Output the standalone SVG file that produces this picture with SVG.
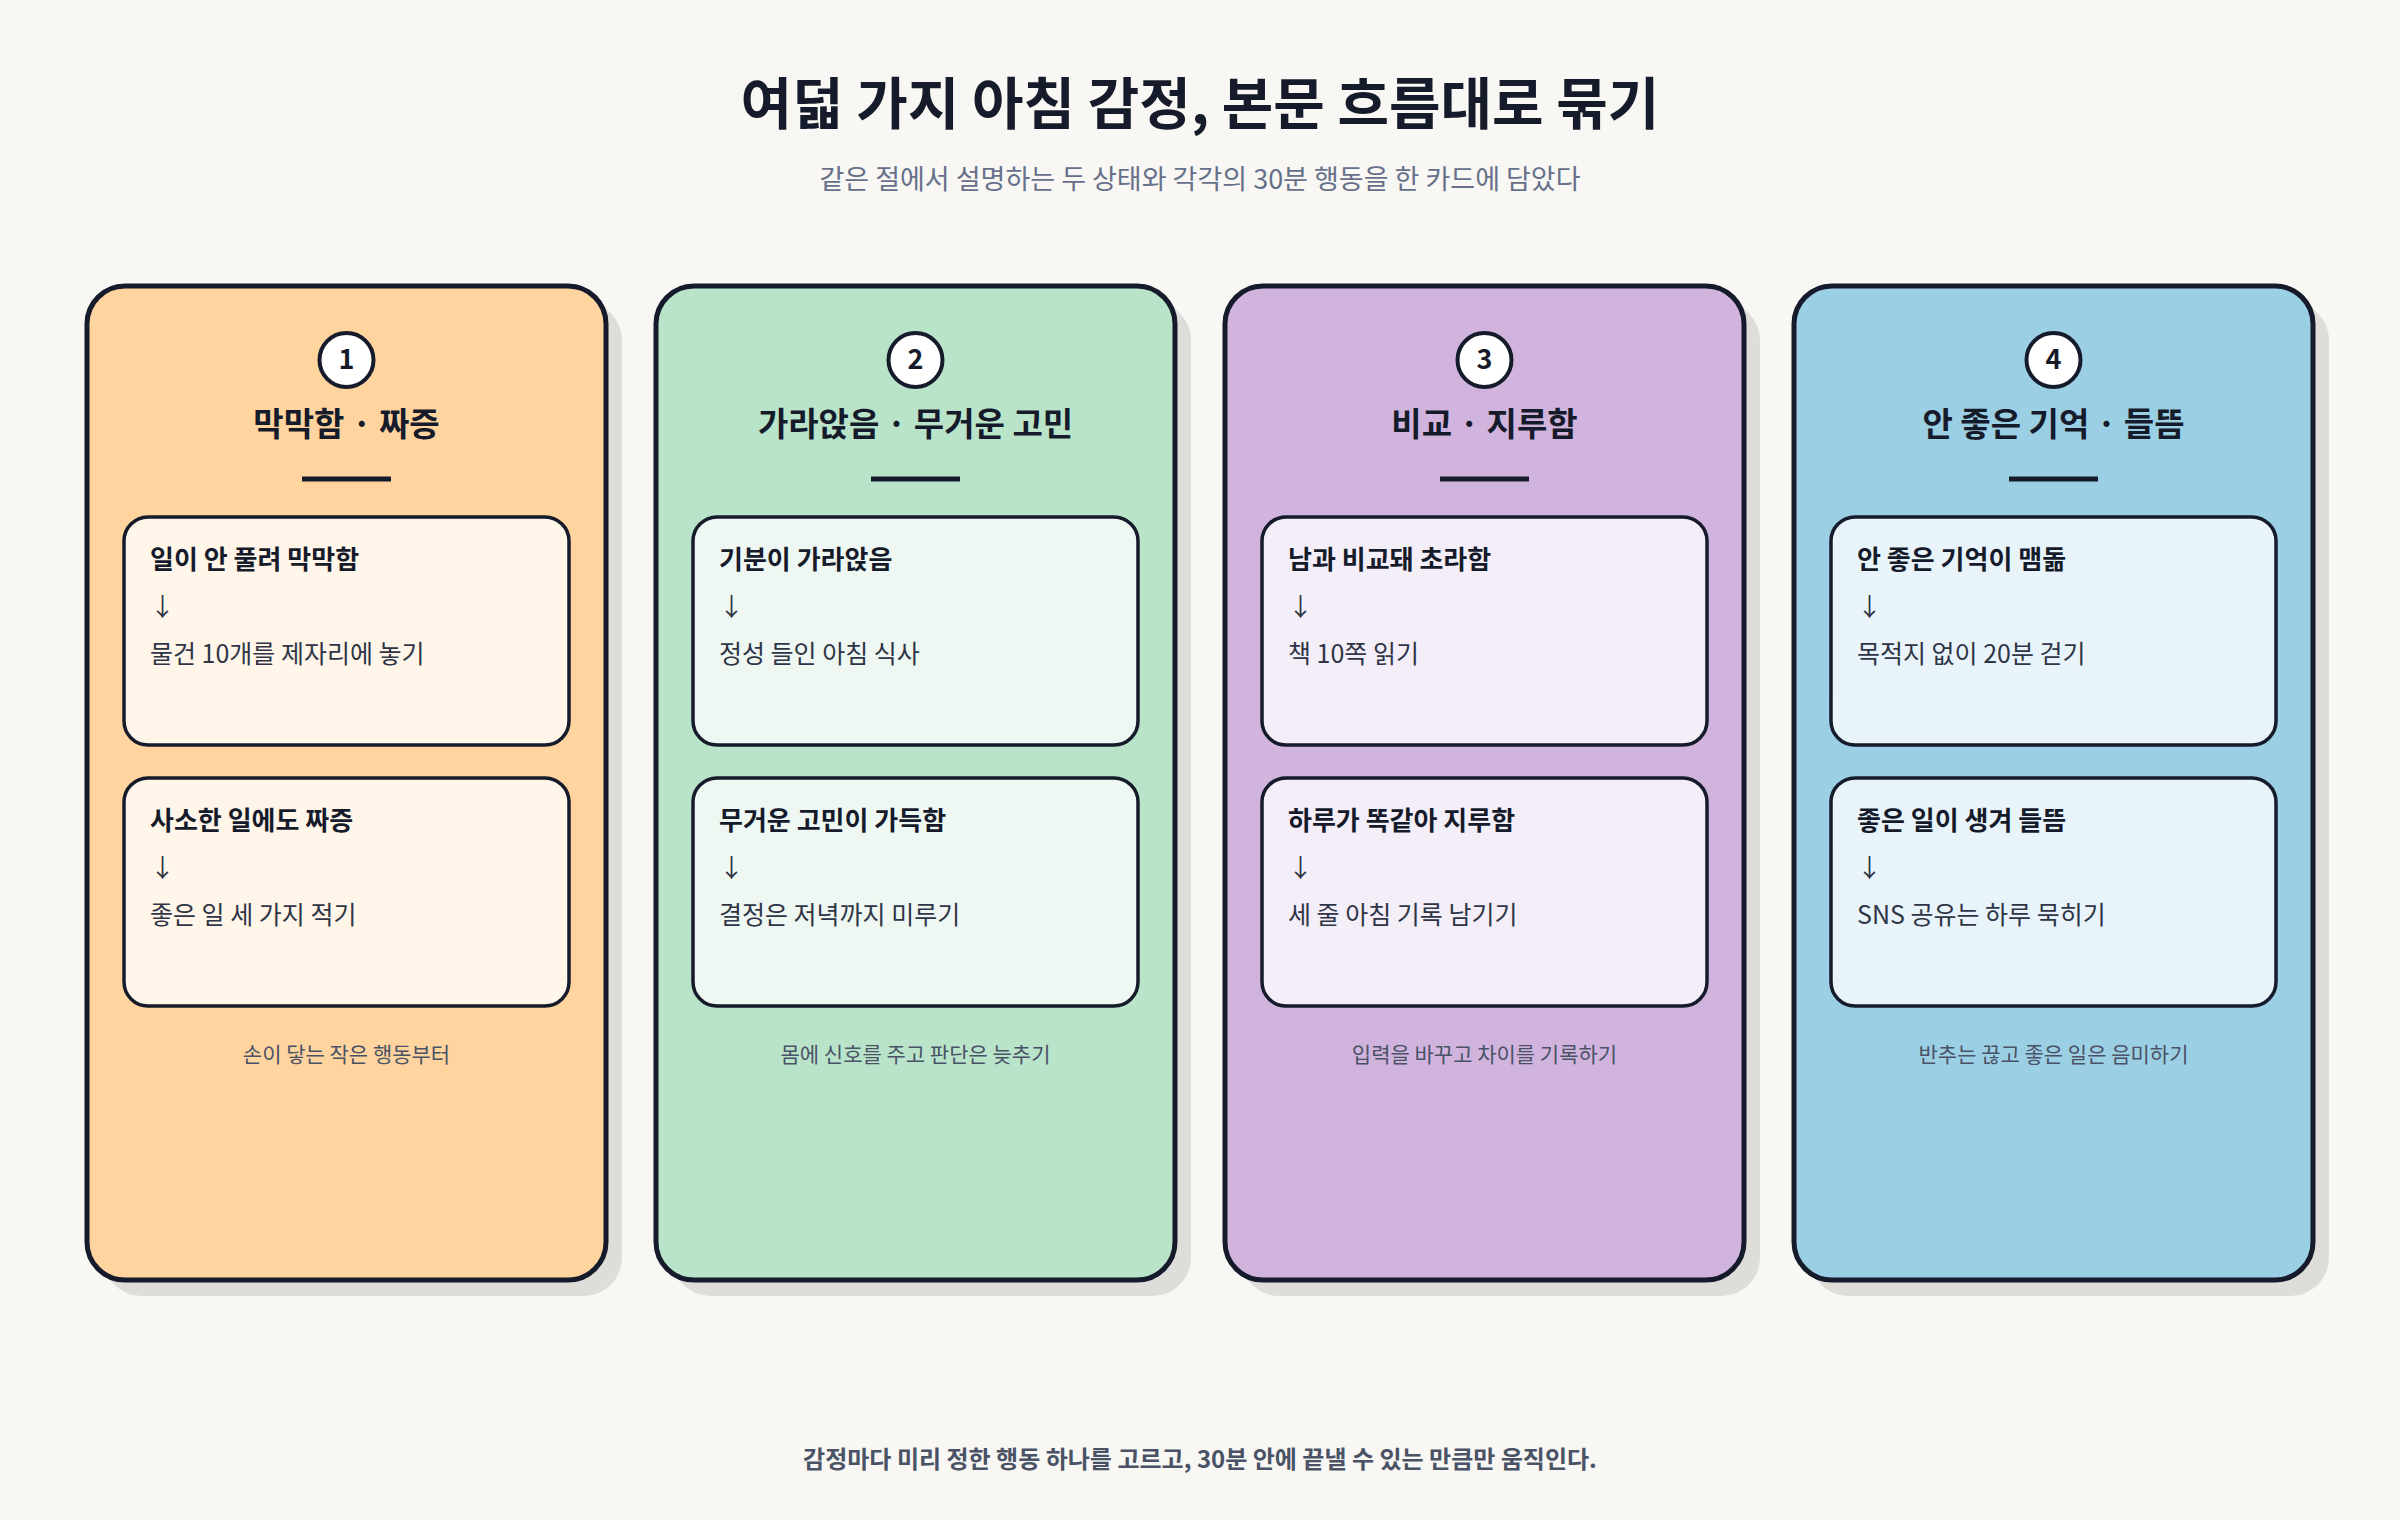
<svg xmlns="http://www.w3.org/2000/svg" width="2400" height="1520" viewBox="0 0 2400 1520">
<style>
text{font-family:"Noto Sans CJK KR","Noto Sans",sans-serif}
.card{stroke:#161b2b;stroke-width:5}
.shadow{fill:#000;opacity:0.1}
.box{stroke:#161b2b;stroke-width:3.5}
.num{font-size:27px;font-weight:700;fill:#161b2b;text-anchor:middle}
.ttl{font-size:33px;font-weight:700;fill:#161b2b;text-anchor:middle}
.h{font-size:26px;font-weight:700;fill:#161b2b}
.a{font-size:25px;fill:#2f3546}
.note{font-size:21px;fill:#4a5266;text-anchor:middle}
</style>
<rect width="2400" height="1520" fill="#f8f7f3"/>
<text x="1200" y="124" font-size="56" font-weight="700" fill="#161b2b" text-anchor="middle">여덟 가지 아침 감정, 본문 흐름대로 묶기</text>
<text x="1200" y="189" font-size="27" fill="#66708a" text-anchor="middle">같은 절에서 설명하는 두 상태와 각각의 30분 행동을 한 카드에 담았다</text>
<g id="card1" transform="translate(87,286)">
<rect class="shadow" x="16" y="16" width="519" height="994" rx="38"/>
<rect class="card" fill="#ffd49f" width="519" height="994" rx="38"/>
<circle cx="259.5" cy="74" r="27" fill="#fff" stroke="#161b2b" stroke-width="4"/><text class="num" x="259.5" y="83">1</text>
<text class="ttl" x="259.5" y="150">막막함 · 짜증</text>
<line x1="215" y1="193" x2="304" y2="193" stroke="#161b2b" stroke-width="5"/>
<rect class="box" fill="#fff5e9" x="37" y="231" width="445" height="228" rx="24"/>
<text class="h" x="63" y="283">일이 안 풀려 막막함</text><text class="a" x="63" y="330">↓</text><text class="a" x="63" y="377">물건 10개를 제자리에 놓기</text>
<rect class="box" fill="#fff5e9" x="37" y="492" width="445" height="228" rx="24"/>
<text class="h" x="63" y="544">사소한 일에도 짜증</text><text class="a" x="63" y="591">↓</text><text class="a" x="63" y="638">좋은 일 세 가지 적기</text>
<text class="note" x="259.5" y="776">손이 닿는 작은 행동부터</text>
</g>
<g id="card2" transform="translate(656,286)">
<rect class="shadow" x="16" y="16" width="519" height="994" rx="38"/>
<rect class="card" fill="#b9e4ca" width="519" height="994" rx="38"/>
<circle cx="259.5" cy="74" r="27" fill="#fff" stroke="#161b2b" stroke-width="4"/><text class="num" x="259.5" y="83">2</text>
<text class="ttl" x="259.5" y="150">가라앉음 · 무거운 고민</text>
<line x1="215" y1="193" x2="304" y2="193" stroke="#161b2b" stroke-width="5"/>
<rect class="box" fill="#eef7f2" x="37" y="231" width="445" height="228" rx="24"/>
<text class="h" x="63" y="283">기분이 가라앉음</text><text class="a" x="63" y="330">↓</text><text class="a" x="63" y="377">정성 들인 아침 식사</text>
<rect class="box" fill="#eef7f2" x="37" y="492" width="445" height="228" rx="24"/>
<text class="h" x="63" y="544">무거운 고민이 가득함</text><text class="a" x="63" y="591">↓</text><text class="a" x="63" y="638">결정은 저녁까지 미루기</text>
<text class="note" x="259.5" y="776">몸에 신호를 주고 판단은 늦추기</text>
</g>
<g id="card3" transform="translate(1225,286)">
<rect class="shadow" x="16" y="16" width="519" height="994" rx="38"/>
<rect class="card" fill="#d0b4dd" width="519" height="994" rx="38"/>
<circle cx="259.5" cy="74" r="27" fill="#fff" stroke="#161b2b" stroke-width="4"/><text class="num" x="259.5" y="83">3</text>
<text class="ttl" x="259.5" y="150">비교 · 지루함</text>
<line x1="215" y1="193" x2="304" y2="193" stroke="#161b2b" stroke-width="5"/>
<rect class="box" fill="#f3eef8" x="37" y="231" width="445" height="228" rx="24"/>
<text class="h" x="63" y="283">남과 비교돼 초라함</text><text class="a" x="63" y="330">↓</text><text class="a" x="63" y="377">책 10쪽 읽기</text>
<rect class="box" fill="#f3eef8" x="37" y="492" width="445" height="228" rx="24"/>
<text class="h" x="63" y="544">하루가 똑같아 지루함</text><text class="a" x="63" y="591">↓</text><text class="a" x="63" y="638">세 줄 아침 기록 남기기</text>
<text class="note" x="259.5" y="776">입력을 바꾸고 차이를 기록하기</text>
</g>
<g id="card4" transform="translate(1794,286)">
<rect class="shadow" x="16" y="16" width="519" height="994" rx="38"/>
<rect class="card" fill="#9bcfe4" width="519" height="994" rx="38"/>
<circle cx="259.5" cy="74" r="27" fill="#fff" stroke="#161b2b" stroke-width="4"/><text class="num" x="259.5" y="83">4</text>
<text class="ttl" x="259.5" y="150">안 좋은 기억 · 들뜸</text>
<line x1="215" y1="193" x2="304" y2="193" stroke="#161b2b" stroke-width="5"/>
<rect class="box" fill="#e8f4fa" x="37" y="231" width="445" height="228" rx="24"/>
<text class="h" x="63" y="283">안 좋은 기억이 맴돎</text><text class="a" x="63" y="330">↓</text><text class="a" x="63" y="377">목적지 없이 20분 걷기</text>
<rect class="box" fill="#e8f4fa" x="37" y="492" width="445" height="228" rx="24"/>
<text class="h" x="63" y="544">좋은 일이 생겨 들뜸</text><text class="a" x="63" y="591">↓</text><text class="a" x="63" y="638">SNS 공유는 하루 묵히기</text>
<text class="note" x="259.5" y="776">반추는 끊고 좋은 일은 음미하기</text>
</g>
<g id="connectors"/>
<text x="1200" y="1468" font-size="24" font-weight="700" fill="#4a5266" text-anchor="middle">감정마다 미리 정한 행동 하나를 고르고, 30분 안에 끝낼 수 있는 만큼만 움직인다.</text>
</svg>
